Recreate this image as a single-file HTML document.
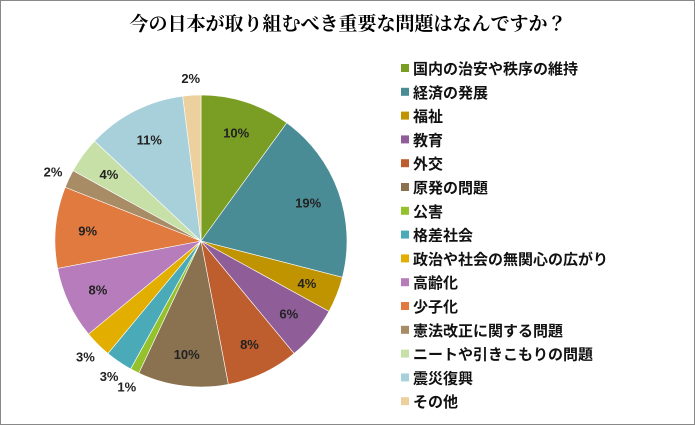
<!DOCTYPE html>
<html><head><meta charset="utf-8">
<style>
body{margin:0;background:#fff;}
#wrap{position:relative;width:695px;height:425px;box-sizing:border-box;border:1px solid #888;background:#fff;overflow:hidden;font-family:"Liberation Sans","Noto Sans CJK JP",sans-serif;}
svg{position:absolute;left:0;top:0;}
</style></head><body>
<div id="wrap">
<svg id="chart" width="695" height="425">
<text x="347" y="29" text-anchor="middle" font-size="19" font-weight="bold" fill="#000" font-family="Liberation Serif, Noto Serif CJK JP, serif">今の日本が取り組むべき重要な問題はなんですか？</text>
</svg>
</div>
<script>
const categories=["国内の治安や秩序の維持","経済の発展","福祉","教育","外交","原発の問題","公害","格差社会","政治や社会の無関心の広がり","高齢化","少子化","憲法改正に関する問題","ニートや引きこもりの問題","震災復興","その他"];
const values=[10,19,4,6,8,10,1,3,3,8,9,2,4,11,2];
const colors=["#7a9e24","#4a8c96","#bf9400","#8f5e99","#be5e2e","#8a7150","#95c22c","#4aaab8","#e2ae00","#b67cbb","#e07a3e","#a88c66","#c6e0a8","#a8d0da","#ecd09e"];
const svg=document.getElementById('chart');
const NS='http://www.w3.org/2000/svg';
const cx=200,cy=240,r=146;
const total=values.reduce((a,b)=>a+b,0);
function ang(v){return v/total*Math.PI*2-Math.PI/2;}
let acc=0;
values.forEach((v,i)=>{
  const a0=ang(acc),a1=ang(acc+v);acc+=v;
  const large=(a1-a0)>Math.PI?1:0;
  const p=document.createElementNS(NS,'path');
  p.setAttribute('d',`M${cx},${cy}L${cx+r*Math.cos(a0)},${cy+r*Math.sin(a0)}A${r},${r} 0 ${large} 1 ${cx+r*Math.cos(a1)},${cy+r*Math.sin(a1)}Z`);
  p.setAttribute('fill',colors[i]);
  p.setAttribute('stroke','#fff');p.setAttribute('stroke-width','0.6');
  
  
  svg.appendChild(p);
  const am=(a0+a1)/2;
  const lr=v>=4?r*0.78:r*1.12;
  const t=document.createElementNS(NS,'text');
  t.setAttribute('x',cx+lr*Math.cos(am));t.setAttribute('y',cy+lr*Math.sin(am)+5);
  t.setAttribute('text-anchor','middle');t.setAttribute('font-size','13');t.setAttribute('font-weight','bold');
  t.setAttribute('fill','#222');
  t.textContent=Math.round(v/total*100)+'%';
  
  
  svg.appendChild(t);
});
categories.forEach((c,i)=>{
  const y=68+i*23.8;
  const g=document.createElementNS(NS,'g');
  
  
  const s=document.createElementNS(NS,'rect');
  s.setAttribute('x',400);s.setAttribute('y',y-5);s.setAttribute('width',8);s.setAttribute('height',8);s.setAttribute('fill',colors[i]);
  
  
  const t=document.createElementNS(NS,'text');
  t.setAttribute('x',412);t.setAttribute('y',y+5);t.setAttribute('font-size','15');t.setAttribute('font-weight','bold');t.setAttribute('fill','#111');
  t.textContent=c;
  
  
  g.appendChild(s);g.appendChild(t);svg.appendChild(g);
});
</script>
</body></html>
